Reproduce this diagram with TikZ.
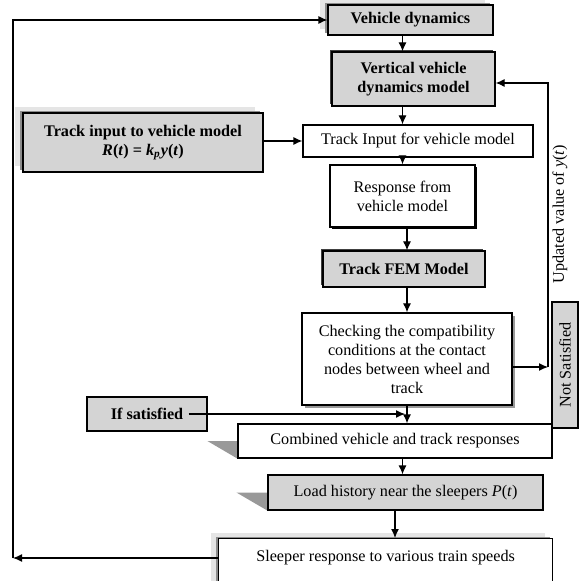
\documentclass[tikz,border=0pt]{standalone}
\usepackage{fontspec}
\setmainfont{Liberation Serif}
\usetikzlibrary{arrows.meta,shadows,backgrounds}
\definecolor{boxgrey}{gray}{0.83}
\definecolor{wedgegrey}{gray}{0.6}
\definecolor{shadegrey}{gray}{0.9}

\begin{document}
\begin{tikzpicture}[x=0.5pt,y=-0.5pt,>={Latex[length=4.5pt,width=4pt]},line width=0.6pt,
  every node/.style={font=\fontsize{8.1}{9.5}\selectfont}]
\tikzstyle{box}=[draw,rectangle,inner sep=0pt,align=center,fill=white]
\tikzstyle{greybox}=[box,fill=boxgrey]
\tikzstyle{tagshadow}=[general shadow={shadow xshift=-4pt,shadow yshift=3pt,fill=shadegrey,draw=none},
  general shadow={shadow xshift=-1.5pt,shadow yshift=1pt,fill=black!45,draw=none}]
\tikzstyle{edgeshadow}=[general shadow={shadow xshift=-1pt,shadow yshift=1pt,fill=black!75,draw=none}]
\tikzstyle{lowshadow}=[general shadow={shadow xshift=1.5pt,shadow yshift=-1.5pt,fill=black!40,draw=none}]
\useasboundingbox (0,0) rectangle (578,581);
\node[greybox,tagshadow,minimum width=82.5pt,minimum height=15pt] (vd) at (410.5,20) {\textbf{Vehicle dynamics}};
\node[greybox,edgeshadow,minimum width=81.5pt,minimum height=27pt] (vvdm) at (413.5,79) {\textbf{Vertical vehicle}\\\textbf{dynamics model}};
\node[box,minimum width=115pt,minimum height=16pt] (ti) at (418,141) {Track Input for vehicle model};
\node[greybox,tagshadow,minimum width=120pt,minimum height=29.5pt] (tiin) at (143,142.5)
  {\textbf{Track input to vehicle model}\\\textbf{\textit{R}(\textit{t}) = \textit{k\textsubscript{p}y}(\textit{t})}};
\node[box,general shadow={shadow xshift=0.8pt,shadow yshift=-0.8pt,fill=black,draw=none},
  minimum width=72.5pt,minimum height=31pt] (resp) at (402.5,196) {Response from\\vehicle model};
\node[greybox,edgeshadow,minimum width=81pt,minimum height=18pt] (fem) at (404,269) {\textbf{Track FEM Model}};
\node[box,lowshadow,minimum width=105pt,minimum height=46pt] (check) at (407,359)
  {Checking the compatibility\\conditions at the contact\\nodes between wheel and\\track};
\node[greybox,minimum width=60pt,minimum height=17pt] (ifsat) at (147,414) {\textbf{If satisfied}};
\node[box,minimum width=157pt,minimum height=17pt] (comb) at (395,441) {Combined vehicle and track responses};
\node[greybox,minimum width=137.5pt,minimum height=17.5pt] (load) at (405.5,492.5)
  {Load history near the sleepers \textit{P}(\textit{t})};
\node[box,tagshadow,anchor=north west,minimum width=167pt,inner ysep=3.5pt,text height=8pt,text depth=11pt]
  (sleep) at (218,538) {Sleeper response to various train speeds};
\node[greybox,rotate=90,minimum width=63pt,minimum height=13pt] (notsat) at (565,365) {Not Satisfied};
\node[rotate=90] (upd) at (560,214) {Updated value of \textit{y}(\textit{t})};
\coordinate (fbr) at (548,367);
\coordinate (fbl) at (13,558);
% wedges behind the lower boxes
\begin{scope}[on background layer]
\fill[wedgegrey] ([xshift=-15pt]comb.west) -- (comb.west) -- (comb.south west) -- cycle;
\fill[wedgegrey] ([xshift=-15.5pt]load.west) -- (load.west) -- (load.south west) -- cycle;
\end{scope}
% main chain
\foreach \a/\b/\c in {vd/vvdm/resp, vvdm/ti/resp, ti/resp/resp, resp/fem/check, fem/check/check,
  check/comb/check, comb/load/resp, load/sleep/comb}
  \draw[->] (\a.south -| \c) -- (\b.north -| \c);
\draw[->] (tiin.east |- ti.west) -- (ti.west);
\draw[->,shorten >=1pt] ([xshift=-9.5pt]ifsat.east) -- (ifsat.east -| check.south);
% feedback loops
\draw[->] (check.east |- fbr) -- (fbr);
\draw[->] (fbr) |- ([yshift=-2pt]vvdm.east);
\draw[->] (sleep.west |- fbl) -- (fbl);
\draw[->] (fbl) |- (vd.west);
\end{tikzpicture}
\end{document}
